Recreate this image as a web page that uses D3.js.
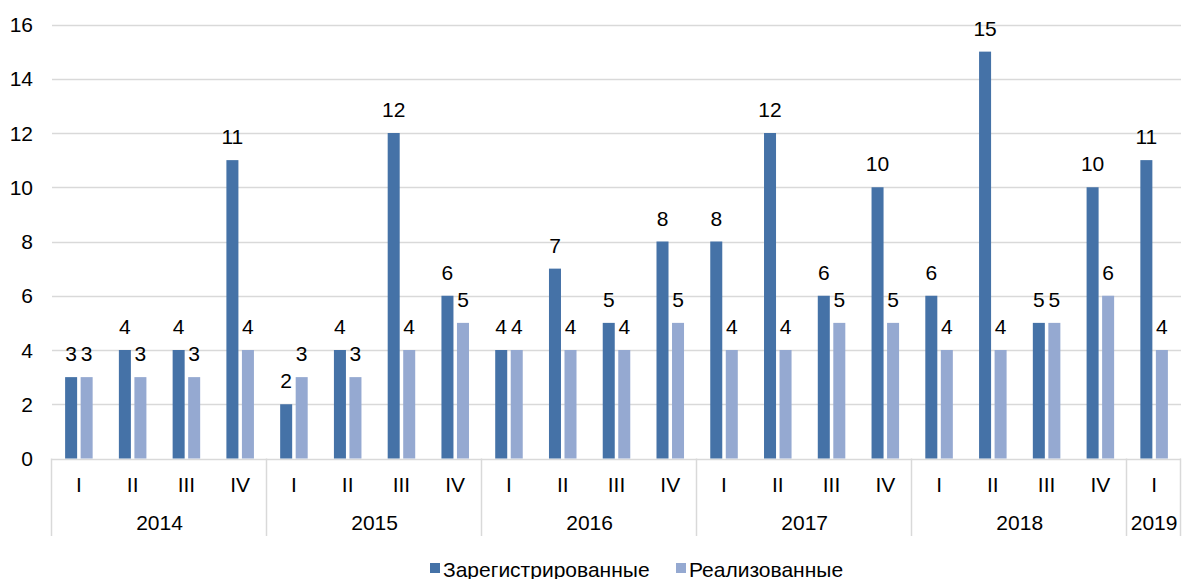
<!DOCTYPE html>
<html>
<head>
<meta charset="utf-8">
<script src="https://cdn.jsdelivr.net/npm/d3@7"></script>
<style>
  body { margin: 0; background: #fff; }
  text { font-family: "Liberation Sans", Arial, sans-serif; fill: #000; }
</style>
</head>
<body>
<script>
// data
var years = ["2014", "2015", "2016", "2017", "2018", "2019"];
var quarters = ["I", "II", "III", "IV",
                "I", "II", "III", "IV",
                "I", "II", "III", "IV",
                "I", "II", "III", "IV",
                "I", "II", "III", "IV",
                "I"];
var quarterYear = [0,0,0,0, 1,1,1,1, 2,2,2,2, 3,3,3,3, 4,4,4,4, 5];
var registered = [3, 4, 4, 11, 2, 4, 12, 6, 4, 7, 5, 8, 8, 12, 6, 10, 6, 15, 5, 10, 11];
var realized   = [3, 3, 3, 4, 3, 3, 4, 5, 4, 4, 4, 5, 4, 4, 5, 5, 4, 4, 5, 6, 4];
var seriesNames = ["Зарегистрированные", "Реализованные"];
var seriesColors = ["#4572a7", "#95a9d1"];
var yTicks = [0, 2, 4, 6, 8, 10, 12, 14, 16];

// set up
var outerWidth = 1182,
    outerHeight = 579,
    plotLeft = 52,
    plotRight = 1181,
    plotTop = 24.5,
    plotBottom = 458.5,
    fontSize = "21px";

var svg = d3.select("body")
    .append("svg")
    .attr("width", outerWidth)
    .attr("height", outerHeight);

var idx = d3.range(quarters.length);

var x = d3.scaleBand()
    .domain(idx)
    .range([plotLeft, plotRight])
    .padding(0);

var xs = d3.scaleBand()
    .domain([0, 1])
    .range([0, x.bandwidth()])
    .paddingInner(0.226)
    .paddingOuter(0.845);

var y = d3.scaleLinear()
    .domain([0, 16])
    .range([plotBottom, plotTop]);

// gridlines
svg.append("g")
    .selectAll("line")
    .data(yTicks)
    .enter()
    .append("line")
    .attr("x1", plotLeft)
    .attr("x2", plotRight)
    .attr("y1", function(d) { return Math.round(y(d)) + 0.5; })
    .attr("y2", function(d) { return Math.round(y(d)) + 0.5; })
    .style("stroke", "#d9d9d9")
    .style("stroke-width", 1.5);

// y tick labels
svg.append("g")
    .selectAll("text")
    .data(yTicks)
    .enter()
    .append("text")
    .attr("x", 33)
    .attr("y", function(d) { return y(d) + 7.5; })
    .attr("text-anchor", "end")
    .attr("font-size", fontSize)
    .text(function(d) { return d; });

// bars
var series = [registered, realized];
series.forEach(function(vals, s) {
    svg.append("g")
        .selectAll("rect")
        .data(idx)
        .enter()
        .append("rect")
        .attr("x", function(i) { return x(i) + xs(s); })
        .attr("width", xs.bandwidth())
        .attr("y", function(i) { return y(vals[i]); })
        .attr("height", function(i) { return plotBottom - y(vals[i]); })
        .style("fill", seriesColors[s]);

    svg.append("g")
        .selectAll("text")
        .data(idx)
        .enter()
        .append("text")
        .attr("x", function(i) { return x(i) + xs(s) + xs.bandwidth() / 2; })
        .attr("y", function(i) { return y(vals[i]) - 16; })
        .attr("text-anchor", "middle")
        .attr("font-size", fontSize)
        .text(function(i) { return vals[i]; });
});

// x axis: quarter labels
svg.append("g")
    .selectAll("text")
    .data(idx)
    .enter()
    .append("text")
    .attr("x", function(i) { return x(i) + x.bandwidth() / 2; })
    .attr("y", 492)
    .attr("text-anchor", "middle")
    .attr("font-size", fontSize)
    .text(function(i) { return quarters[i]; });

// year groups
var groups = years.map(function(yr, g) {
    var members = idx.filter(function(i) { return quarterYear[i] == g; });
    return {
        year: yr,
        x0: x(members[0]),
        x1: x(members[members.length - 1]) + x.bandwidth()
    };
});

svg.append("g")
    .selectAll("text")
    .data(groups)
    .enter()
    .append("text")
    .attr("x", function(d) { return (d.x0 + d.x1) / 2; })
    .attr("y", 530)
    .attr("text-anchor", "middle")
    .attr("font-size", fontSize)
    .text(function(d) { return d.year; });

// separators between years
var seps = groups.map(function(d) { return d.x0; });
seps.push(groups[groups.length - 1].x1);
svg.append("g")
    .selectAll("line")
    .data(seps)
    .enter()
    .append("line")
    .attr("x1", function(d) { return Math.round(d) - 0.5; })
    .attr("x2", function(d) { return Math.round(d) - 0.5; })
    .attr("y1", plotBottom)
    .attr("y2", 536)
    .style("stroke", "#d9d9d9")
    .style("stroke-width", 1.5);

// legend
var legend = svg.append("g");
var legendX = [430, 676];
seriesNames.forEach(function(name, s) {
    legend.append("rect")
        .attr("x", legendX[s])
        .attr("y", 563)
        .attr("width", 10)
        .attr("height", 10)
        .style("fill", seriesColors[s]);
    legend.append("text")
        .attr("x", legendX[s] + 13)
        .attr("y", 577)
        .attr("font-size", fontSize)
        .text(name);
});
</script>
</body>
</html>
